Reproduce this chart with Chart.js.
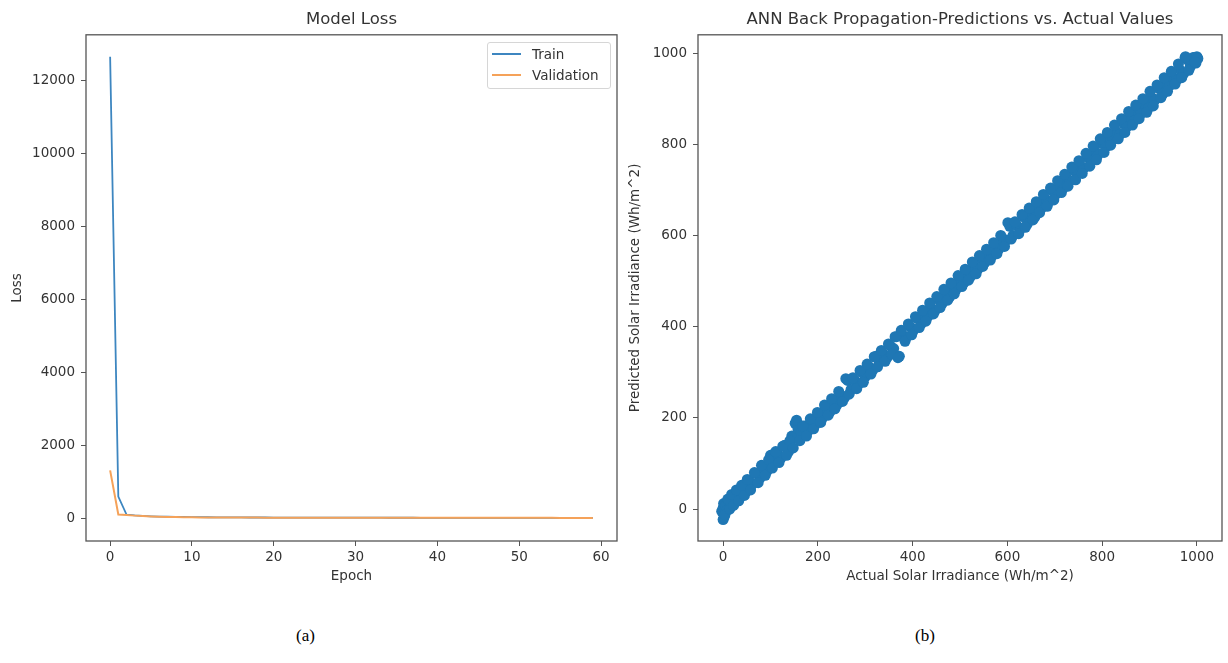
<!DOCTYPE html>
<html>
<head>
<meta charset="utf-8">
<script src="https://cdn.jsdelivr.net/npm/chart.js@4.4.0/dist/chart.umd.min.js"></script>
<style>
  body { margin:0; background:#fff; width:1228px; height:663px; position:relative; overflow:hidden; font-family:'DejaVu Sans', sans-serif; }
  canvas { position:absolute; top:0; }
  #lossChart { left:0; }
  #irrChart { left:622px; }
  .legend { position:absolute; left:487px; top:42px; width:122px; height:45px; border:1px solid #d6d6d6; border-radius:3px; background:rgba(255,255,255,0.8); font-size:13.5px; color:#333; }
  .legend .row { position:absolute; left:0; height:16px; line-height:16px; width:100%; }
  .legend .swatch { position:absolute; left:4px; top:7px; width:29px; height:2px; }
  .legend .txt { position:absolute; left:44px; top:0; white-space:nowrap; }
  .sub { position:absolute; top:626px; line-height:20px; font-family:'Liberation Serif', serif; font-size:17px; color:#000; }
</style>
</head>
<body>
<canvas id="lossChart" width="630" height="600"></canvas>
<canvas id="irrChart" width="606" height="600"></canvas>

<div class="legend">
  <div class="row" style="top:3px"><span class="swatch" style="background:#3d86c0"></span><span class="txt">Train</span></div>
  <div class="row" style="top:24px"><span class="swatch" style="background:#f5a259"></span><span class="txt">Validation</span></div>
</div>
<div class="sub" style="left:296px">(a)</div>
<div class="sub" style="left:915px">(b)</div>

<script>
// ----------------- data ----------------- //

// (a) model loss per epoch
const epochs = [0,1,2,3,4,5,6,7,8,9,10,11,12,13,14,15,16,17,18,19,20,21,22,23,24,25,26,27,28,29,
                30,31,32,33,34,35,36,37,38,39,40,41,42,43,44,45,46,47,48,49,50,51,52,53,54,55,56,57,58,59];
const trainLoss = [12650, 600, 110, 85, 72, 62, 55, 50, 46, 42, 39, 37, 35, 33, 32, 31, 30, 29, 28, 28,
                   27, 27, 26, 26, 25, 25, 25, 24, 24, 24, 23, 23, 23, 23, 22, 22, 22, 22, 21, 21,
                   21, 21, 21, 20, 20, 20, 20, 20, 19, 19, 19, 19, 19, 19, 18, 18, 18, 18, 18, 18];
const valLoss = [1320, 110, 95, 80, 68, 58, 50, 45, 40, 36, 33, 31, 30, 29, 28, 27, 27, 26, 26, 25,
                 25, 25, 24, 24, 24, 23, 23, 23, 23, 22, 22, 22, 22, 22, 21, 21, 21, 21, 21, 21,
                 20, 20, 20, 20, 20, 20, 20, 19, 19, 19, 19, 19, 19, 19, 19, 18, 18, 18, 18, 18];
const lossXTicks = [0, 10, 20, 30, 40, 50, 60];
const lossYTicks = [0, 2000, 4000, 6000, 8000, 10000, 12000];

// (b) predicted vs actual irradiance (test samples)
const actualIrr = [-3, 0, 2, 1, 4, 0, 2, 5, 8, 12, 16, 20, 25, 30, 36, 42, 48, 55, 62, 70, 78, 85, 93,
  100, 108, 115, 122, 130, 138, 145, 152, 158, 165, 172, 180, 188, 195, 203, 210, 218, 226, 233, 240,
  248, 256, 263, 270, 278, 286, 293, 300, 308, 316, 323, 330, 338, 346, 353, 360, 366, 372, 380, 388,
  395, 402, 410, 418, 425, 432, 440, 448, 455, 462, 470, 478, 485, 492, 500, 508, 515, 522, 530, 538,
  545, 552, 560, 568, 575, 582, 590, 598, 605, 612, 620, 628, 635, 642, 650, 658, 665, 672, 680, 688,
  695, 702, 710, 718, 725, 732, 740, 748, 755, 762, 770, 778, 785, 792, 800, 808, 815, 822, 830, 838,
  845, 852, 860, 868, 875, 882, 890, 898, 905, 912, 920, 928, 935, 942, 950, 958, 965, 972, 975, 980,
  986, 990, 992, 995, 998, 1000, 1002,
  4, 10, 14, 18, 22, 28, 33, 39, 45, 51, 58, 66, 74, 81, 89, 96, 104, 111, 118, 126, 134, 141, 148,
  155, 162, 168, 176, 184, 191, 199, 206, 214, 222, 229, 236, 244, 252, 259, 266, 274, 282, 289, 296,
  304, 312, 319, 326, 334, 342, 349, 356, 363, 369, 376, 384, 391, 398, 406, 414, 421, 428, 436, 444,
  451, 458, 466, 474, 481, 488, 496, 504, 511, 518, 526, 534, 541, 548, 556, 564, 571, 578, 586, 594,
  601, 608, 616, 624, 631, 638, 646, 654, 661, 668, 676, 684, 691, 698, 706, 714, 721, 728, 736, 744,
  751, 758, 766, 774, 781, 788, 796, 804, 811, 818, 826, 834, 841, 848, 856, 864, 871, 878, 886, 894,
  901, 908, 916, 924, 931, 938, 946, 954, 961, 968, 976, 983, 996];
const predictedIrr = [-5, -23, -18, 12, -2, 2, -10, 8, -3, 18, 6, 25, 14, 35, 28, 50, 38, 62, 55, 78, 68, 90, 84,
  118, 102, 122, 112, 140, 126, 160, 188, 176, 168, 182, 172, 194, 186, 210, 200, 222, 214, 238, 228,
  250, 244, 282, 262, 282, 274, 300, 290, 312, 305, 335, 322, 340, 332, 358, 352, 378, 335, 380, 378,
  400, 392, 418, 406, 428, 422, 440, 436, 460, 450, 472, 465, 488, 482, 502, 496, 518, 510, 532, 526,
  548, 540, 560, 556, 578, 570, 588, 590, 620, 600, 622, 615, 640, 625, 652, 640, 668, 660, 680, 675,
  698, 690, 712, 704, 725, 720, 742, 736, 752, 748, 770, 764, 785, 778, 802, 794, 815, 810, 828, 822,
  846, 838, 858, 852, 872, 868, 888, 880, 902, 898, 922, 910, 932, 928, 945, 942, 962, 955, 990, 985,
  970, 982, 990, 990, 978, 992, 988,
  -12, 22, 0, 32, 8, 42, 18, 52, 30, 65, 42, 80, 58, 96, 74, 108, 90, 126, 102, 138, 118, 150, 134,
  195, 150, 182, 160, 198, 176, 212, 190, 228, 206, 242, 220, 258, 236, 286, 252, 288, 264, 304, 278,
  318, 296, 334, 312, 348, 324, 362, 340, 378, 332, 392, 368, 406, 382, 422, 398, 436, 412, 452, 428,
  466, 442, 482, 458, 496, 472, 512, 488, 526, 502, 542, 516, 556, 532, 570, 546, 584, 560, 600, 576,
  628, 592, 630, 604, 646, 618, 660, 634, 674, 650, 690, 664, 704, 678, 720, 694, 734, 708, 750, 722,
  764, 736, 780, 752, 796, 766, 812, 782, 826, 798, 842, 812, 856, 826, 872, 842, 886, 856, 900, 870,
  916, 884, 930, 902, 946, 916, 960, 932, 976, 946, 992, 962, 980];
const irrXTicks = [0, 200, 400, 600, 800, 1000];
const irrYTicks = [0, 200, 400, 600, 800, 1000];

// ----------------- style ----------------- //
const txtColor = '#333';
const spineColor = '#555';
const fontFam = "'DejaVu Sans', sans-serif";

// draws the full box round the plot (matplotlib spines)
const framePlugin = {
  id: 'frame',
  afterDraw(chart) {
    const { ctx, chartArea: a } = chart;
    ctx.save();
    ctx.strokeStyle = spineColor;
    ctx.lineWidth = 1.3;
    ctx.strokeRect(a.left, a.top, a.right - a.left, a.bottom - a.top);
    ctx.restore();
  }
};

function axis(min, max, tickList, title, titlePad, fitSize, isX) {
  return {
    type: 'linear',
    min: min,
    max: max,
    afterBuildTicks: (s) => { s.ticks = tickList.map(v => ({ value: v })); },
    afterFit: (s) => { if (isX) s.height = fitSize; else s.width = fitSize; },
    border: { display: false },
    grid: { drawOnChartArea: false, drawTicks: true, tickLength: 5, color: spineColor, lineWidth: 1 },
    ticks: { color: txtColor, font: { family: fontFam, size: 13.5 }, padding: isX ? 3 : 6,
             maxRotation: 0, autoSkip: false, callback: (v) => String(v) },
    title: { display: true, text: title, color: txtColor, font: { family: fontFam, size: 13.5 }, padding: titlePad }
  };
}

function chartTitle(text) {
  return {
    display: true, text: text, fullSize: false, color: txtColor,
    font: { family: fontFam, size: 16.5, weight: 'normal' },
    padding: { top: 10, bottom: 5 }
  };
}

// ----------------- (a) Model Loss ----------------- //
new Chart(document.getElementById('lossChart'), {
  type: 'line',
  data: {
    datasets: [
      { label: 'Train', data: trainLoss.map((v, i) => ({ x: epochs[i], y: v })),
        borderColor: '#3d86c0', borderWidth: 1.8, pointRadius: 0, order: 1 },
      { label: 'Validation', data: valLoss.map((v, i) => ({ x: epochs[i], y: v })),
        borderColor: '#f5a259', borderWidth: 2, pointRadius: 0, order: 0 }
    ]
  },
  options: {
    responsive: false,
    animation: false,
    layout: { padding: { left: 0, right: 13, top: 0, bottom: 9 } },
    plugins: { legend: { display: false }, tooltip: { enabled: false }, title: chartTitle('Model Loss') },
    scales: {
      x: axis(-2.95, 61.95, lossXTicks, 'Epoch', { top: 0, bottom: 6 }, 50, true),
      y: axis(-615, 13250, lossYTicks, 'Loss', { top: 9, bottom: 0 }, 86, false)
    }
  },
  plugins: [framePlugin]
});

// ----------------- (b) Predictions vs Actual ----------------- //
new Chart(document.getElementById('irrChart'), {
  type: 'scatter',
  data: {
    datasets: [
      { label: 'Predicted', data: actualIrr.map((v, i) => ({ x: v, y: predictedIrr[i] })),
        backgroundColor: '#1f77b4', borderColor: '#1f77b4', borderWidth: 0, pointRadius: 5.5 }
    ]
  },
  options: {
    responsive: false,
    animation: false,
    layout: { padding: { left: 0, right: 6, top: 0, bottom: 9 } },
    plugins: { legend: { display: false }, tooltip: { enabled: false },
      title: chartTitle('ANN Back Propagation-Predictions vs. Actual Values') },
    scales: {
      x: axis(-53, 1053, irrXTicks, 'Actual Solar Irradiance (Wh/m^2)', { top: 0, bottom: 6 }, 50, true),
      y: axis(-70, 1040, irrYTicks, 'Predicted Solar Irradiance (Wh/m^2)', { top: 5.4, bottom: 0 }, 76, false)
    }
  },
  plugins: [framePlugin]
});
</script>
</body>
</html>
